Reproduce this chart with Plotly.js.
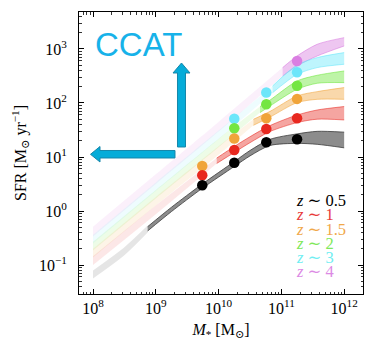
<!DOCTYPE html>
<html>
<head>
<meta charset="utf-8">
<script src="https://cdn.plot.ly/plotly-3.0.1.min.js"></script>
<style>html,body{margin:0;padding:0;background:#fff;}#chart{width:365px;height:340px;}</style>
</head>
<body>
<div id="chart"></div>
<script>
// ---------- DATA (log10 values) ----------
// Redshift labels
const zLabels = ["z ~ 0.5", "z ~ 1", "z ~ 1.5", "z ~ 2", "z ~ 3", "z ~ 4"];

// Stellar masses of the binned points (log10 M*/Msun)
const dotLogMass = [9.74, 10.25, 10.76, 11.25];

// Binned SFR points (Msun/yr)
const dotsZ05 = [3.0, 7.8, 18.7, 21.3];
const dotsZ1  = [4.6, 13.5, 33, 52];
const dotsZ15 = [6.8, 22, 52, 119];
const dotsZ2  = [null, 34, 95, 209];
const dotsZ3  = [null, 51, 156, 371];
const dotsZ4  = [null, null, null, 600];

// Main-sequence bands: extrapolated (faded) part, log10 M* and log10 SFR limits
const fadeMassZ05 = [8.0, 8.5, 8.87];
const fadeLoZ05   = [-1.25, -0.82, -0.40];
const fadeHiZ05   = [-1.10, -0.67, -0.27];
const fadeMassZ1  = [8.0, 9.0, 9.97];
const fadeLoZ1    = [-1.0, -0.06, 0.88];
const fadeHiZ1    = [-0.84, 0.10, 0.98];
const fadeMassZ15 = [8.0, 9.0, 10.0, 10.555];
const fadeLoZ15   = [-0.86, 0.10, 1.04, 1.587];
const fadeHiZ15   = [-0.70, 0.26, 1.20, 1.698];
const fadeMassZ2  = [8.0, 9.0, 10.0, 10.66];
const fadeLoZ2    = [-0.73, 0.23, 1.18, 1.822];
const fadeHiZ2    = [-0.57, 0.39, 1.34, 1.933];
const fadeMassZ3  = [8.0, 9.0, 10.0, 10.86];
const fadeLoZ3    = [-0.60, 0.37, 1.33, 2.19];
const fadeHiZ3    = [-0.44, 0.53, 1.49, 2.315];
const fadeMassZ4  = [8.0, 9.0, 10.0, 11.02];
const fadeLoZ4    = [-0.47, 0.50, 1.47, 2.50];
const fadeHiZ4    = [-0.29, 0.68, 1.65, 2.655];

// Main-sequence bands: measured (solid) part
const bandMassZ05 = [8.87, 9.25, 9.74, 10.25, 10.5, 10.82, 11.25, 11.57, 12.0];
const bandLoZ05   = [-0.37, -0.01, 0.42, 0.825, 1.02, 1.213, 1.252, 1.235, 1.17];
const bandHiZ05   = [-0.29, 0.07, 0.50, 0.915, 1.12, 1.327, 1.428, 1.475, 1.46];
const bandMassZ1  = [9.97, 10.25, 10.5, 10.82, 11.25, 11.57, 12.0];
const bandLoZ1    = [0.88, 1.085, 1.265, 1.472, 1.637, 1.70, 1.686];
const bandHiZ1    = [0.98, 1.195, 1.375, 1.582, 1.777, 1.87, 1.934];
const bandMassZ15 = [10.555, 10.82, 11.25, 11.57, 12.0];
const bandLoZ15   = [1.587, 1.74, 2.007, 2.068, 2.068];
const bandHiZ15   = [1.698, 1.845, 2.13, 2.21, 2.285];
const bandMassZ2  = [10.66, 10.82, 11.25, 11.57, 12.0];
const bandLoZ2    = [1.822, 1.945, 2.254, 2.365, 2.377];
const bandHiZ2    = [1.933, 2.055, 2.407, 2.513, 2.593];
const bandMassZ3  = [10.86, 11.25, 11.57, 12.0];
const bandLoZ3    = [2.19, 2.53, 2.655, 2.717];
const bandHiZ3    = [2.315, 2.704, 2.84, 2.933];
const bandMassZ4  = [11.02, 11.25, 11.57, 12.0];
const bandLoZ4    = [2.50, 2.685, 2.87, 3.056];
const bandHiZ4    = [2.655, 2.87, 3.087, 3.21];

// Axis ticks
const xTickVals = [1e8, 1e9, 1e10, 1e11, 1e12];
const xTickText = ["10<sup>8</sup>", "10<sup>9</sup>", "10<sup>10</sup>", "10<sup>11</sup>", "10<sup>12</sup>"];
const yTickVals = [0.1, 1, 10, 100, 1000];
const yTickText = ["10<sup>−1</sup>", "10<sup>0</sup>", "10<sup>1</sup>", "10<sup>2</sup>", "10<sup>3</sup>"];

// ---------- STYLE ----------
const rgbs = [[0,0,0],[232,40,32],[240,162,55],[110,230,60],[100,230,250],[215,120,222]];
const dotCols = ["#000000", "#e8281f", "#f0a43a", "#74e642", "#6ce6fa", "#da7fe2"];
const textCols = ["#000000", "#e83a3a", "#f0a84a", "#80e85a", "#70eef2", "#dc8ae4"];
const fadeAlpha = [0.1, 0.11, 0.12, 0.12, 0.11, 0.11];
const bandAlpha = [0.45, 0.42, 0.42, 0.45, 0.42, 0.42];

const series = [
  {fm: fadeMassZ05, fl: fadeLoZ05, fh: fadeHiZ05, bm: bandMassZ05, bl: bandLoZ05, bh: bandHiZ05, d: dotsZ05},
  {fm: fadeMassZ1,  fl: fadeLoZ1,  fh: fadeHiZ1,  bm: bandMassZ1,  bl: bandLoZ1,  bh: bandHiZ1,  d: dotsZ1},
  {fm: fadeMassZ15, fl: fadeLoZ15, fh: fadeHiZ15, bm: bandMassZ15, bl: bandLoZ15, bh: bandHiZ15, d: dotsZ15},
  {fm: fadeMassZ2,  fl: fadeLoZ2,  fh: fadeHiZ2,  bm: bandMassZ2,  bl: bandLoZ2,  bh: bandHiZ2,  d: dotsZ2},
  {fm: fadeMassZ3,  fl: fadeLoZ3,  fh: fadeHiZ3,  bm: bandMassZ3,  bl: bandLoZ3,  bh: bandHiZ3,  d: dotsZ3},
  {fm: fadeMassZ4,  fl: fadeLoZ4,  fh: fadeHiZ4,  bm: bandMassZ4,  bl: bandLoZ4,  bh: bandHiZ4,  d: dotsZ4}
];

const pow10 = a => a.map(v => Math.pow(10, v));
const rgba = (c, a) => `rgba(${c[0]},${c[1]},${c[2]},${a})`;

function band(m, lo, hi, fill, edge, ew) {
  return [
    {x: pow10(m), y: pow10(lo), mode: 'lines', line: {color: edge, width: ew, shape: 'spline', smoothing: 0.8},
     hoverinfo: 'skip', showlegend: false},
    {x: pow10(m), y: pow10(hi), mode: 'lines', fill: 'tonexty', fillcolor: fill,
     line: {color: edge, width: ew, shape: 'spline', smoothing: 0.8}, hoverinfo: 'skip', showlegend: false}
  ];
}

let traces = [];
for (let i = series.length - 1; i >= 0; i--) {
  const s = series[i];
  traces = traces.concat(band(s.fm, s.fl, s.fh, rgba(rgbs[i], fadeAlpha[i]), 'rgba(0,0,0,0)', 0));
}
for (let i = series.length - 1; i >= 0; i--) {
  const s = series[i];
  const edge = i === 0 ? 'rgba(60,60,60,0.8)' : rgba(rgbs[i], 0.55);
  traces = traces.concat(band(s.bm, s.bl, s.bh, rgba(rgbs[i], bandAlpha[i]), edge, 1));
}
for (let i = series.length - 1; i >= 0; i--) {
  const s = series[i];
  traces.push({x: pow10(dotLogMass), y: s.d, mode: 'markers',
    marker: {color: dotCols[i], size: 10.5, line: {width: 0}}, showlegend: false, hoverinfo: 'skip'});
}

// ---------- LAYOUT ----------
const L = 79, R = 363, T = 12, B = 294;
const px = v => (v - L) / (R - L);
const py = v => (B - v) / (B - T);
function pathFrom(pts) {
  return 'M ' + pts.map(p => px(p[0]).toFixed(4) + ',' + py(p[1]).toFixed(4)).join(' L ') + ' Z';
}
const upArrow = [[177.5,147],[177.5,73],[173,73],[181.5,63],[190,73],[185.5,73],[185.5,147]];
const leftArrow = [[175,150.5],[100,150.5],[100,146.5],[90.5,154.3],[100,162],[100,158],[175,158]];

const serif = 'Liberation Serif, DejaVu Serif, serif';
const annotations = [
  {text: 'CCAT', x: px(138), y: py(44), xref: 'paper', yref: 'paper', showarrow: false,
   xanchor: 'center', yanchor: 'middle', font: {family: 'Liberation Sans, Arial, sans-serif', size: 33, color: '#17b2e9'}}
];
zLabels.forEach((t, i) => {
  const parts = t.split(' ~ ');
  annotations.push({text: '<i>' + parts[0] + '</i> ∼ ' + parts[1], x: px(294.5), y: py(200.7 + i * 14.2),
    xref: 'paper', yref: 'paper', showarrow: false, xanchor: 'left', yanchor: 'middle', borderpad: 0,
    font: {family: serif, size: 16.5, color: textCols[i]}});
});

const minorX = [], minorY = [];
for (let e = 7; e <= 12; e++) for (let k = 2; k <= 9; k++) minorX.push(k * Math.pow(10, e));
for (let e = -2; e <= 3; e++) for (let k = 2; k <= 9; k++) minorY.push(k * Math.pow(10, e));

const axisCommon = {
  type: 'log', showline: true, linecolor: '#000', linewidth: 1, mirror: 'allticks',
  ticks: 'inside', ticklen: 5, tickwidth: 1, tickcolor: '#000', showgrid: false, zeroline: false,
  tickmode: 'array', tickfont: {family: serif, size: 16, color: '#000'}
};

const layout = {
  width: 365, height: 340,
  margin: {l: L, r: 365 - R, t: T, b: 340 - B},
  paper_bgcolor: '#fff', plot_bgcolor: '#fff',
  showlegend: false,
  xaxis: Object.assign({}, axisCommon, {
    range: [7.777, 12.30], tickvals: xTickVals, ticktext: xTickText,
    minor: {ticks: 'inside', ticklen: 2.5, tickwidth: 0.8, tickcolor: '#000', tickmode: 'array', tickvals: minorX, showgrid: false},
    title: {text: '<i>M</i><sub>*</sub> [M<sub>⊙</sub>]', font: {family: serif, size: 16, color: '#000'}, standoff: 7}
  }),
  yaxis: Object.assign({}, axisCommon, {
    range: [-1.537, 3.685], tickvals: yTickVals, ticktext: yTickText, ticklabelstandoff: 8,
    minor: {ticks: 'inside', ticklen: 2.5, tickwidth: 0.8, tickcolor: '#000', tickmode: 'array', tickvals: minorY, showgrid: false},
    title: {text: 'SFR [M<sub>⊙</sub> yr<sup>−1</sup>]', font: {family: serif, size: 16, color: '#000'}, standoff: 8}
  }),
  shapes: [
    {type: 'path', xref: 'paper', yref: 'paper', path: pathFrom(upArrow), fillcolor: '#05acd9', line: {color: '#1687aa', width: 1}},
    {type: 'path', xref: 'paper', yref: 'paper', path: pathFrom(leftArrow), fillcolor: '#05acd9', line: {color: '#1687aa', width: 1}}
  ],
  annotations: annotations
};

Plotly.newPlot('chart', traces, layout, {staticPlot: true, displayModeBar: false});
</script>
</body>
</html>
